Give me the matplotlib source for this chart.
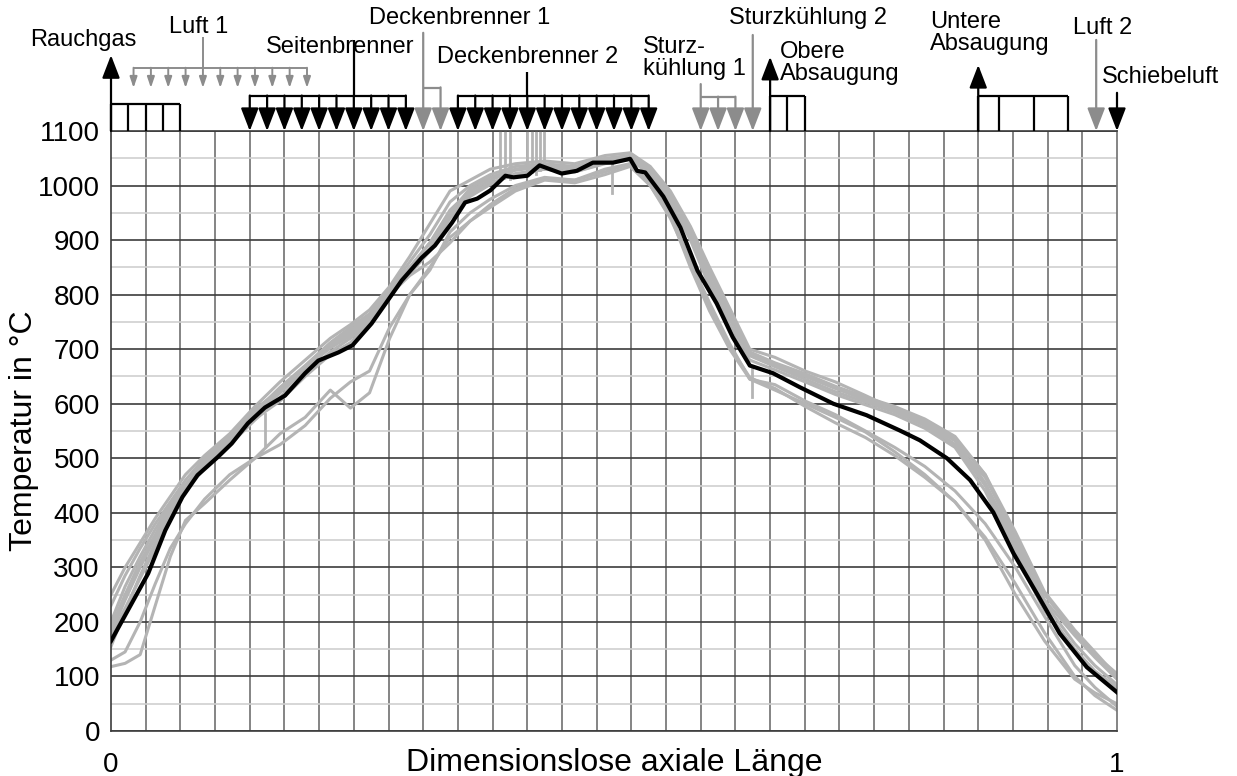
import numpy as np
import matplotlib.pyplot as plt
from matplotlib.ticker import FixedLocator

plt.rcParams['font.family'] = ['Liberation Sans', 'DejaVu Sans']

# ------------------------------------
#          - Data -
# ------------------------------------

# mean temperature profile (black)
mean_x = [0.000, 0.037, 0.054, 0.071, 0.086, 0.106, 0.120, 0.136, 0.153, 0.173,
          0.193, 0.206, 0.226, 0.240, 0.259, 0.275, 0.289, 0.309, 0.322, 0.339,
          0.352, 0.364, 0.377, 0.392, 0.400, 0.414, 0.426, 0.448, 0.463, 0.479,
          0.499, 0.516, 0.523, 0.531, 0.549, 0.566, 0.583, 0.602, 0.618, 0.635,
          0.658, 0.685, 0.718, 0.751, 0.784, 0.804, 0.831, 0.854, 0.877, 0.897,
          0.920, 0.943, 0.970, 1.000]
mean_t = [165, 289, 368, 429, 469, 502, 527, 564, 593, 615,
          656, 679, 694, 707, 747, 789, 826, 868, 890, 932,
          969, 976, 991, 1018, 1015, 1018, 1037, 1022, 1027, 1042,
          1042, 1049, 1027, 1024, 980, 923, 844, 784, 722, 670,
          656, 630, 600, 579, 551, 533, 500, 460, 401, 326,
          253, 179, 117, 71]

# single measurement campaigns (grey)
gray_x = [0.000, 0.014, 0.029, 0.044, 0.059, 0.074, 0.093, 0.118, 0.143, 0.168,
          0.193, 0.218, 0.238, 0.257, 0.277, 0.297, 0.317, 0.337, 0.357, 0.377,
          0.402, 0.431, 0.461, 0.491, 0.516, 0.536, 0.556, 0.576, 0.595, 0.615,
          0.635, 0.660, 0.690, 0.720, 0.750, 0.779, 0.809, 0.839, 0.869, 0.899,
          0.928, 0.958, 0.978, 1.000]
gray_1 = [250, 300, 345, 390, 430, 470, 505, 545, 595, 640, 680, 720, 745, 772, 815,
          870, 930, 990, 1010, 1030, 1040, 1045, 1040, 1055, 1060, 1035, 990, 925, 850,
          775, 700, 685, 660, 640, 615, 590, 565, 525, 465, 360, 250, 180, 140, 105]
gray_2 = [230, 285, 335, 380, 420, 460, 500, 540, 585, 630, 670, 712, 740, 765, 810,
          860, 910, 970, 1000, 1020, 1035, 1040, 1035, 1050, 1055, 1030, 985, 920, 845,
          765, 695, 675, 655, 632, 612, 595, 572, 540, 470, 350, 240, 175, 135, 95]
gray_3 = [200, 265, 320, 370, 415, 452, 492, 530, 578, 620, 662, 705, 730, 758, 805,
          850, 895, 955, 990, 1010, 1028, 1035, 1030, 1045, 1050, 1025, 975, 910, 830,
          755, 690, 670, 650, 628, 607, 588, 565, 532, 455, 345, 235, 160, 120, 85]
gray_4 = [180, 240, 300, 355, 405, 445, 488, 525, 570, 612, 655, 695, 720, 750, 800,
          845, 885, 945, 985, 1005, 1020, 1030, 1025, 1040, 1048, 1020, 968, 905, 825,
          745, 688, 668, 645, 622, 603, 585, 560, 525, 450, 335, 225, 150, 110, 80]
gray_5 = [155, 220, 285, 345, 400, 447, 490, 535, 582, 622, 666, 702, 725, 755, 800,
          838, 880, 940, 980, 1002, 1022, 1030, 1025, 1042, 1052, 1022, 970, 900, 815,
          735, 680, 662, 640, 617, 598, 580, 555, 520, 440, 325, 220, 145, 105, 75]
gray_6 = [130, 145, 200, 270, 335, 380, 425, 470, 500, 545, 575, 625, 592, 620, 720,
          800, 850, 905, 935, 960, 990, 1010, 1005, 1020, 1035, 1000, 945, 850, 770,
          700, 645, 635, 605, 580, 550, 520, 485, 440, 380, 300, 210, 120, 80, 45]
gray_7 = [118, 124, 140, 230, 320, 386, 417, 460, 500, 525, 560, 610, 640, 660, 740,
          800, 845, 915, 950, 975, 1000, 1015, 1010, 1025, 1040, 1005, 950, 860, 780,
          705, 648, 628, 595, 565, 538, 505, 465, 420, 355, 270, 180, 100, 65, 38]
gray_8 = [175, 225, 280, 335, 392, 440, 482, 528, 572, 605, 650, 690, 712, 748, 800,
          835, 860, 895, 935, 965, 995, 1012, 1010, 1030, 1040, 1000, 940, 860, 785,
          710, 645, 625, 600, 575, 548, 512, 470, 420, 350, 250, 165, 95, 70, 50]
gray_9 = [190, 250, 310, 360, 410, 450, 495, 538, 590, 625, 668, 710, 735, 762, 808,
          850, 895, 950, 995, 1015, 1030, 1038, 1032, 1048, 1055, 1028, 980, 915, 840,
          765, 692, 672, 652, 630, 610, 590, 568, 535, 470, 365, 255, 185, 145, 100]
gray_runs = [gray_1, gray_2, gray_3, gray_4, gray_5, gray_6, gray_7, gray_8, gray_9]

# short sensor spikes in the grey curves
spike_x = [0.153, 0.387, 0.392, 0.397, 0.414, 0.418, 0.422, 0.426, 0.430, 0.498, 0.637]
spike_lo = [520, 1010, 1015, 1012, 1020, 1025, 1022, 1028, 1030, 1040, 665]
spike_hi = [582, 1150, 1150, 1150, 1150, 1150, 1150, 1150, 1150, 987, 612]

# burner / air positions in grid units (29 cells)
rauch_box = [0, 0.5, 1, 1.5, 2]
luft1_pos = [0.65, 1.15, 1.65, 2.15, 2.65, 3.15, 3.65, 4.15, 4.65, 5.15, 5.65]
seiten_pos = [4, 4.5, 5, 5.5, 6, 6.5, 7, 7.5, 8, 8.5]
decke1_pos = [9, 9.5]
decke2_pos = [10, 10.5, 11, 11.5, 12, 12.5, 13, 13.5, 14, 14.5, 15, 15.5]
sturz1_pos = [17, 17.5, 18]
sturz2_pos = 18.5
obere_box = [19, 19.5, 20]
untere_box = [25, 25.6, 26.6, 27.6]
luft2_pos = 28.4
schiebe_pos = 29

# ------------------------------------
#          - Plot -
# ------------------------------------

fig = plt.figure(figsize=(12.37, 7.76), dpi=100)
ax = fig.add_axes([111 / 1237, 45 / 776, 1006 / 1237, 600 / 776])

for run in gray_runs:
    ax.plot(gray_x, run, color='#b4b4b4', lw=2.2, zorder=2)
for sx, lo, hi in zip(spike_x, spike_lo, spike_hi):
    ax.plot([sx, sx], [lo, hi], color='#b4b4b4', lw=2.0, zorder=2)
ax.plot(mean_x, mean_t, color='black', lw=3, zorder=3)

ax.set_xlim(0, 1)
ax.set_ylim(0, 1100)
ax.set_xticks([0, 1])
ax.set_xticklabels(['0', '1'])
ax.xaxis.set_minor_locator(FixedLocator(np.linspace(0, 1, 30)))
ax.set_yticks(np.arange(0, 1101, 100))
ax.yaxis.set_minor_locator(FixedLocator(np.arange(50, 1100, 100)))
ax.grid(which='minor', axis='x', color='#707070', lw=1.2)
ax.grid(which='minor', axis='y', color='#cfcfcf', lw=1.2)
ax.grid(which='major', axis='y', color='#3c3c3c', lw=1.2)
ax.set_axisbelow(True)
ax.tick_params(which='both', length=0, labelsize=20)
ax.tick_params(axis='y', pad=8)
ax.tick_params(axis='x', pad=15)
for side in ['left', 'bottom', 'top']:
    ax.spines[side].set_color('#3c3c3c')
    ax.spines[side].set_linewidth(1.2)
ax.spines['right'].set_color('#707070')
ax.spines['right'].set_linewidth(1.2)

ax.set_xlabel('Dimensionslose axiale Länge', fontsize=23)
ax.xaxis.set_label_coords(0.5, -0.028)
ax.set_ylabel('Temperatur in °C', fontsize=23)
ax.yaxis.set_label_coords(-0.072, 0.5)

# ------------------------------------
#          - Kiln annotations -
# ------------------------------------
BLK = 'black'
GRY = '#8c8c8c'


def g(cell):
    return cell / 29


def seg(x0, y0, x1, y1, color, lw=1.6):
    ax.plot([x0, x1], [y0, y1], color=color, lw=lw, clip_on=False,
            solid_capstyle='butt', zorder=4)


def arrow(x, y0, y1, color, small=False):
    if small:
        style, ms, lw = '-|>,head_length=0.65,head_width=0.22', 10, 1.4
    else:
        style, ms, lw = '-|>,head_length=0.7,head_width=0.27', 20, 1.6
    ax.annotate('', xy=(x, y1), xytext=(x, y0),
                arrowprops=dict(arrowstyle=style, color=color, lw=lw,
                                shrinkA=0, shrinkB=0, mutation_scale=ms),
                annotation_clip=False, zorder=4)


fs = 17
# Rauchgas
arrow(g(0), 1100, 1239, BLK)
seg(g(rauch_box[0]), 1150, g(rauch_box[-1]), 1150, BLK)
for b in rauch_box:
    seg(g(b), 1100, g(b), 1150, BLK)
ax.text(g(-0.81), 1267, 'Rauchgas', fontsize=fs, ha='center', va='center')

# Luft 1
seg(g(luft1_pos[0]), 1215, g(luft1_pos[-1]), 1215, GRY, 1.4)
seg(g(2.65), 1215, g(2.65), 1272, GRY, 1.4)
for p in luft1_pos:
    arrow(g(p), 1216, 1179, GRY, small=True)
ax.text(g(2.54), 1291, 'Luft 1', fontsize=fs, ha='center', va='center')

# Seitenbrenner
seg(g(seiten_pos[0]), 1164, g(seiten_pos[-1]), 1164, BLK)
seg(g(7), 1164, g(7), 1267, BLK)
for p in seiten_pos:
    arrow(g(p), 1165, 1100, BLK)
ax.text(g(6.6), 1254, 'Seitenbrenner', fontsize=fs, ha='center', va='center')

# Deckenbrenner 1
seg(g(decke1_pos[0]), 1179, g(decke1_pos[1]), 1179, GRY)
arrow(g(decke1_pos[0]), 1280, 1100, GRY)
arrow(g(decke1_pos[1]), 1180, 1100, GRY)
ax.text(g(10.06), 1307, 'Deckenbrenner 1', fontsize=fs, ha='center', va='center')

# Deckenbrenner 2
seg(g(decke2_pos[0]), 1164, g(decke2_pos[-1]), 1164, BLK)
seg(g(12), 1164, g(12), 1208, BLK)
for p in decke2_pos:
    arrow(g(p), 1165, 1100, BLK)
ax.text(g(12.02), 1236, 'Deckenbrenner 2', fontsize=fs, ha='center', va='center')

# Sturzkühlung 1
seg(g(sturz1_pos[0]), 1162, g(sturz1_pos[-1]), 1162, GRY)
arrow(g(sturz1_pos[0]), 1186, 1100, GRY)
for p in sturz1_pos[1:]:
    arrow(g(p), 1163, 1100, GRY)
ax.text(g(15.34), 1234, 'Sturz-\nkühlung 1', fontsize=fs, ha='left', va='center',
        linespacing=1.0)

# Sturzkühlung 2
arrow(g(sturz2_pos), 1276, 1100, GRY)
ax.text(g(20.09), 1307, 'Sturzkühlung 2', fontsize=fs, ha='center', va='center')

# Obere Absaugung
arrow(g(19), 1100, 1236, BLK)
seg(g(obere_box[0]), 1164, g(obere_box[-1]), 1164, BLK)
for b in obere_box:
    seg(g(b), 1100, g(b), 1164, BLK)
ax.text(g(19.28), 1225, 'Obere\nAbsaugung', fontsize=fs, ha='left', va='center',
        linespacing=1.0)

# Untere Absaugung
arrow(g(25), 1100, 1221, BLK)
seg(g(untere_box[0]), 1164, g(untere_box[-1]), 1164, BLK)
for b in untere_box:
    seg(g(b), 1100, g(b), 1164, BLK)
ax.text(g(23.6), 1280, 'Untere\nAbsaugung', fontsize=fs, ha='left', va='center',
        linespacing=1.0)

# Luft 2 / Schiebeluft
arrow(g(luft2_pos), 1267, 1100, GRY)
ax.text(g(28.6), 1289, 'Luft 2', fontsize=fs, ha='center', va='center')
arrow(g(schiebe_pos), 1170, 1100, BLK)
ax.text(g(28.57), 1199, 'Schiebeluft', fontsize=fs, ha='left', va='center')

fig.savefig('out.png', dpi=100)
